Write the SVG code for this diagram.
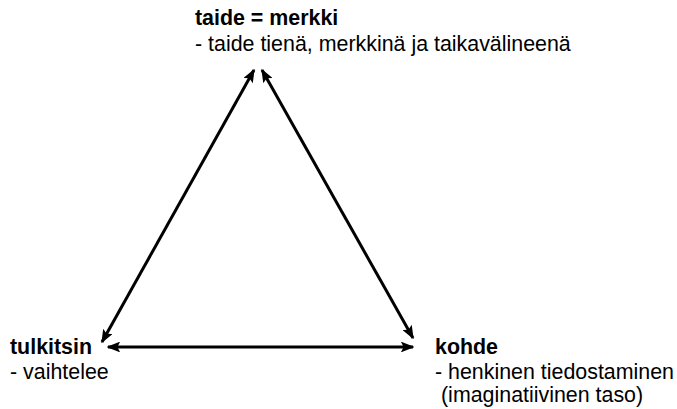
<svg xmlns="http://www.w3.org/2000/svg" width="677" height="409" viewBox="0 0 677 409">
<style>
text{font-family:"Liberation Sans",Arial,sans-serif;font-size:21.4px;fill:#000}
.b{font-weight:bold}
.c{stroke:#000;stroke-width:3;fill:none;marker-start:url(#a);marker-end:url(#a)}
</style>
<defs>
<marker id="a" viewBox="0 0 10 10" refX="9" refY="5" markerWidth="4.5" markerHeight="3.6" markerUnits="strokeWidth" orient="auto-start-reverse" preserveAspectRatio="none">
<path d="M0,0 L10,5 L0,10 L2,5 Z" fill="#000"/>
</marker>
</defs>
<rect width="677" height="409" fill="#fff"/>
<g id="connectors">
<line class="c" x1="102" y1="342" x2="254" y2="70"/>
<line class="c" x1="262" y1="70" x2="413" y2="338"/>
<line class="c" x1="108" y1="347" x2="413" y2="347"/>
</g>
<g id="taide">
<text class="b" x="195" y="25">taide = merkki</text>
<text x="195" y="51">- taide tienä, merkkinä ja taikavälineenä</text>
</g>
<g id="tulkitsin">
<text class="b" x="10" y="354">tulkitsin</text>
<text x="10" y="379">- vaihtelee</text>
</g>
<g id="kohde">
<text class="b" x="435" y="354">kohde</text>
<text x="435" y="379">- henkinen tiedostaminen</text>
<text x="441" y="402">(imaginatiivinen taso)</text>
</g>
</svg>
